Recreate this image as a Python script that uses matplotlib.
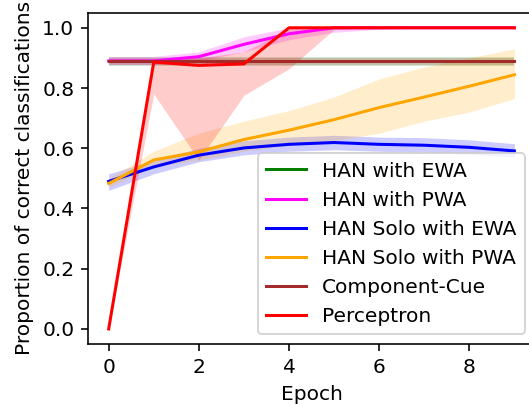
import numpy as np
import matplotlib
matplotlib.use('Agg')
import matplotlib.pyplot as plt

epochs = np.arange(10)

labels = ['HAN with EWA', 'HAN with PWA', 'HAN Solo with EWA',
          'HAN Solo with PWA', 'Component-Cue', 'Perceptron']
colors = ['green', 'magenta', 'blue', 'orange', 'brown', 'red']

han_ewa = [0.888] * 10
han_ewa_lo = [0.872] * 10
han_ewa_hi = [0.904] * 10

han_pwa = [0.89, 0.89, 0.904, 0.945, 0.98, 1.0, 1.0, 1.0, 1.0, 1.0]
han_pwa_lo = [0.878, 0.878, 0.89, 0.92, 0.96, 0.985, 0.995, 1.0, 1.0, 1.0]
han_pwa_hi = [0.905, 0.905, 0.92, 0.97, 1.0, 1.0, 1.0, 1.0, 1.0, 1.0]

solo_ewa = [0.49, 0.538, 0.577, 0.601, 0.613, 0.619, 0.613, 0.61, 0.603, 0.591]
solo_ewa_lo = [0.46, 0.515, 0.555, 0.578, 0.59, 0.595, 0.59, 0.587, 0.58, 0.57]
solo_ewa_hi = [0.515, 0.56, 0.6, 0.625, 0.637, 0.643, 0.637, 0.635, 0.628, 0.615]

solo_pwa = [0.483, 0.561, 0.588, 0.629, 0.66, 0.695, 0.735, 0.77, 0.806, 0.844]
solo_pwa_lo = [0.47, 0.54, 0.56, 0.59, 0.61, 0.625, 0.65, 0.69, 0.72, 0.765]
solo_pwa_hi = [0.50, 0.59, 0.65, 0.69, 0.725, 0.77, 0.83, 0.87, 0.90, 0.93]

comp_cue = [0.888] * 10
comp_cue_lo = [0.876] * 10
comp_cue_hi = [0.9] * 10

perceptron = [0.0, 0.886, 0.875, 0.88, 1.0, 1.0, 1.0, 1.0, 1.0, 1.0]
perceptron_lo = [0.0, 0.78, 0.561, 0.776, 0.864, 0.995, 1.0, 1.0, 1.0, 1.0]
perceptron_hi = [0.0, 0.89, 0.9, 0.92, 1.0, 1.0, 1.0, 1.0, 1.0, 1.0]

series = [
    (han_ewa, han_ewa_lo, han_ewa_hi),
    (han_pwa, han_pwa_lo, han_pwa_hi),
    (solo_ewa, solo_ewa_lo, solo_ewa_hi),
    (solo_pwa, solo_pwa_lo, solo_pwa_hi),
    (comp_cue, comp_cue_lo, comp_cue_hi),
    (perceptron, perceptron_lo, perceptron_hi),
]

dpi = 145
fig = plt.figure(figsize=(529 / dpi, 406 / dpi), dpi=dpi)
ax = fig.add_axes([0.1671, 0.1527, 0.8437, 0.816])

for (mean, lo, hi), lab, col in zip(series, labels, colors):
    ax.plot(epochs, mean, color=col, label=lab)
    ax.fill_between(epochs, lo, hi, color=col, alpha=0.2, linewidth=0)

ax.set_xlabel('Epoch')
ax.set_ylabel('Proportion of correct classifications')
ax.legend(loc='lower right')

fig.savefig('out.png', dpi=dpi)
